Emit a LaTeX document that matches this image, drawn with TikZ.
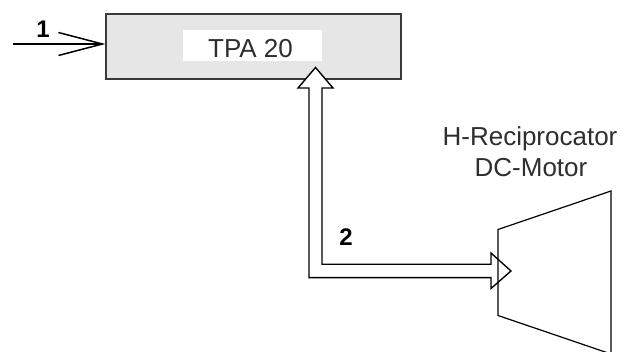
\documentclass[tikz,border=0pt]{standalone}
\usepackage{fontspec}
\setmainfont{Liberation Sans}
\usetikzlibrary{arrows.meta}
\definecolor{boxgray}{HTML}{E6E6E6}
\definecolor{edgegray}{HTML}{3A3A3A}
\definecolor{txtgray}{HTML}{2E2E2E}
\begin{document}
\begin{tikzpicture}[x=1pt,y=-1pt,
  unitbox/.style={draw=edgegray, line width=1.2pt, fill=boxgray, minimum width=295pt, minimum height=65pt, inner sep=0pt},
  whitelabel/.style={fill=white, minimum width=139pt, minimum height=31pt, inner sep=0pt},
  bigtext/.style={font=\fontsize{26}{31}\selectfont, text=txtgray, inner sep=0pt},
  numlabel/.style={font=\fontsize{24}{28}\selectfont\bfseries, inner sep=0pt},
  outline/.style={draw=black, line width=1.4pt, line join=miter},
  feed/.style={draw=black, line width=1.8pt, -{Straight Barb[length=44pt, width=23pt, line width=1.5pt]}}
]
\useasboundingbox (0,0) rectangle (634,352);
% controller box
\node[unitbox] (tpa) at (253.5,46.5) {};
\node[whitelabel] (tpalbl) at (252.5,45.5) {};
\node[bigtext, anchor=base] (tpatext) at (250.5,57.5) {TPA 20};
% input arrow
\coordinate (in) at (13,44);
\draw[feed] (in) -- (in -| tpa.west);
\node[numlabel] (n1) at (43,29.5) {1};
% hollow double arrow between controller and motor
\path[outline, fill=white]
  (309,88) -- (309,277.7) -- (491,277.7) -- (491,288.5) -- (511,271)
  -- (491,253) -- (491,264.3) -- (322,264.3) -- (322,88)
  -- (333,88) -- (315.5,67.5) -- (298,88) -- cycle;
\node[numlabel] (n2) at (346,237) {2};
% motor (trapezoid)
\draw[line width=1.2pt, line join=miter] (498,229.5) -- (611,191) -- (611,354) -- (498,315.5) -- cycle;
\node[bigtext, anchor=base] (m1) at (530,145.5) {H-Reciprocator};
\node[bigtext, anchor=base] (m2) at (531,176.5) {DC-Motor};
\end{tikzpicture}
\end{document}
